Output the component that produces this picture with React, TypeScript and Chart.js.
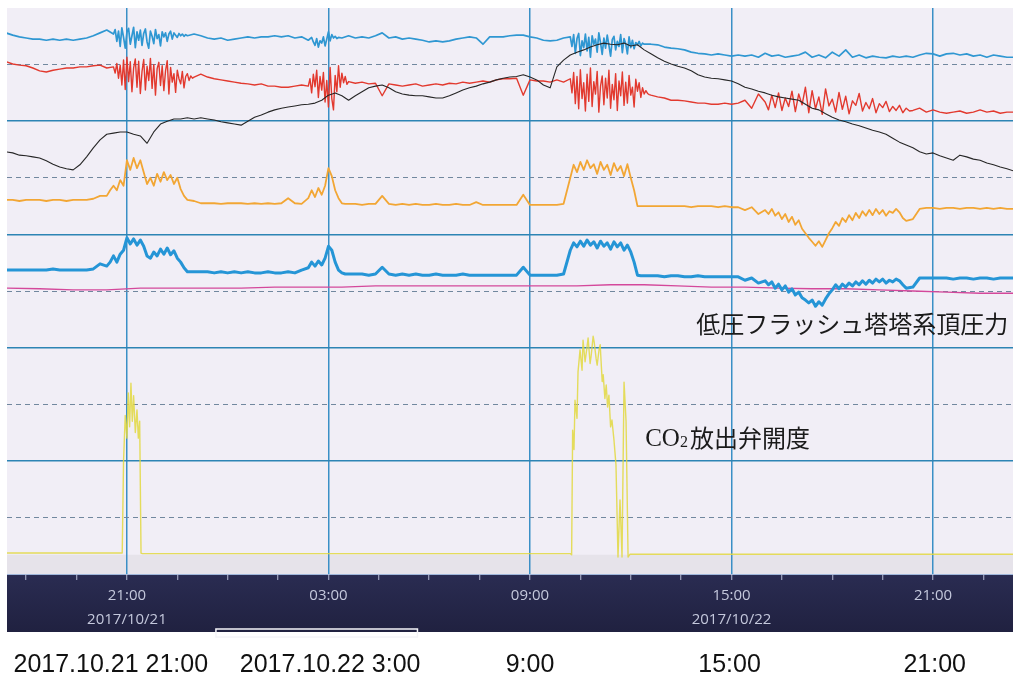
import { useEffect, useRef } from "react";
import { Chart, registerables } from "chart.js";

Chart.register(...registerables);

// Time axis: hours counted from 2017/10/21 00:00.
const VIEW_MIN = 17.43;
const VIEW_MAX = 47.38;

// Sampled trends start at 17:24 and are logged every 12 minutes (0.2 h).
const START_HOUR = 17.4;
const STEP_HOURS = 0.2;

// All trends are plotted in % of their own span.
const topBlueTrend = [
  95.6, 95.2, 94.9, 94.7, 94.5, 94.5, 94.3, 94.5, 94.3, 94.5,
  94.3, 94.5, 94.7, 95.1, 95.6, 96.1, 93.5, 96.5, 93.3, 95.8,
  94.0, 96.1, 92.9, 95.6, 93.8, 95.1, 95.6, 95.2, 95.4, 95.1,
  94.7, 94.5, 94.7, 94.3, 94.5, 94.7, 94.9, 94.7, 94.9, 94.9,
  95.1, 94.9, 95.1, 94.7, 94.9, 94.3, 93.3, 94.9, 93.1, 95.6,
  94.7, 95.1, 94.7, 94.9, 94.7, 95.1, 95.6, 94.7, 94.9, 94.5,
  94.7, 94.5, 94.3, 94.0, 94.2, 94.0, 94.2, 94.5, 94.7, 94.9,
  94.7, 93.6, 94.9, 94.9, 94.9, 95.1, 95.2, 95.2, 94.9, 94.7,
  94.3, 94.2, 94.3, 94.7, 95.1, 92.2, 95.1, 91.7, 94.7, 93.5,
  95.2, 92.6, 94.7, 92.9, 94.7, 94.0, 93.6, 93.5, 93.1, 92.9,
  92.8, 92.6, 92.2, 92.0, 91.9, 91.7, 91.9, 91.7, 91.5, 91.7,
  91.5, 91.7, 91.3, 92.0, 91.5, 91.7, 91.3, 91.5, 91.7, 92.2,
  91.3, 91.7, 91.2, 92.2, 91.5, 92.6, 91.3, 91.7, 91.2, 91.5,
  91.3, 91.2, 91.5, 91.3, 91.5, 91.3, 91.7, 92.0, 91.9, 91.5,
  91.9, 92.0, 91.7, 91.9, 91.5, 91.7, 91.3, 91.7, 91.5, 91.3,
  91.3,
];
// Fast-logged stretches (3 min / 6 min samples) where the signal hunts.
const topBlueBurst2100 = { start: 20.6, step: 0.05, values: [
  95.4, 96.2, 94.1, 95.9, 93.2, 96.5, 94.8, 92.9, 95.7, 96.4,
  93.6, 95.1, 96.6, 93.0, 95.8, 94.3, 96.1, 93.4, 95.5, 96.3,
  94.0, 92.9, 95.9, 95.0, 93.7, 96.2, 94.6, 95.3, 93.3, 95.8,
  94.9, 95.6, 94.1, 95.4, 95.9, 94.5, 95.6, 95.2, 94.8, 95.5,
  95.1, 95.4, 95.0, 95.3, 95.1,
] };
const topBlueBurst0300 = { start: 26.5, step: 0.05, values: [
  94.8, 94.0, 93.4, 94.6, 93.1, 94.2, 93.8, 94.9, 93.3, 94.5,
  95.8, 94.2, 95.3, 94.7, 95.0, 94.6, 94.8,
] };
const topBlueBurst1000 = { start: 34.2, step: 0.05, values: [
  94.9, 93.2, 95.3, 92.0, 94.6, 95.5, 91.6, 94.2, 93.0, 95.4,
  92.4, 94.8, 91.3, 95.1, 93.6, 94.5, 92.2, 95.6, 93.9, 91.8,
  94.7, 92.9, 95.2, 93.4, 91.5, 94.4, 95.0, 92.6, 94.1, 93.2,
  95.3, 92.1, 94.6, 93.7, 91.9, 94.9, 93.0, 94.3, 92.8, 93.9,
  93.5, 94.1, 93.3, 93.8, 93.6,
] };

const redTrend = [
  90.5, 90.1, 89.9, 89.8, 89.4, 88.9, 88.7, 89.0, 89.2, 89.4,
  89.4, 89.6, 89.6, 89.8, 89.9, 89.4, 90.8, 85.5, 91.2, 85.2,
  90.5, 85.9, 90.8, 84.5, 89.9, 85.5, 90.3, 86.4, 89.0, 88.3,
  87.8, 87.5, 87.3, 87.1, 86.9, 86.7, 86.6, 86.4, 86.6, 86.2,
  86.2, 86.0, 86.0, 86.2, 86.4, 85.2, 88.2, 82.9, 89.4, 82.3,
  88.2, 86.9, 86.7, 86.9, 86.6, 86.7, 84.5, 86.6, 86.4, 86.2,
  86.4, 86.6, 86.2, 86.4, 86.6, 86.4, 86.7, 86.6, 86.9, 86.7,
  86.9, 87.1, 86.9, 87.3, 87.5, 87.5, 87.6, 84.6, 87.3, 87.1,
  87.1, 86.9, 87.3, 86.9, 88.2, 82.3, 88.7, 82.0, 88.2, 82.9,
  88.9, 82.3, 87.3, 81.6, 86.4, 84.6, 84.5, 84.3, 84.1, 83.7,
  83.7, 83.6, 83.4, 83.2, 83.2, 83.0, 83.0, 83.2, 83.0, 83.2,
  83.7, 82.3, 84.8, 82.0, 84.5, 82.0, 84.1, 82.3, 84.6, 82.7,
  85.2, 82.0, 84.5, 81.6, 84.6, 82.3, 84.1, 81.6, 83.7, 82.2,
  83.2, 81.6, 83.0, 82.0, 82.7, 81.8, 82.3, 81.6, 82.0, 81.6,
  81.4, 81.6, 81.8, 81.4, 81.6, 82.0, 81.6, 81.8, 81.4, 81.6,
  81.6,
];
const redBurst2100 = { start: 20.6, step: 0.05, values: [
  89.6, 88.5, 90.2, 87.6, 89.9, 86.4, 90.8, 85.6, 91.3, 87.0,
  90.5, 85.2, 89.4, 91.0, 86.0, 90.6, 84.9, 88.8, 90.9, 85.5,
  89.7, 87.2, 91.1, 85.8, 90.0, 84.6, 89.3, 90.4, 86.3, 89.8,
  85.4, 88.9, 90.7, 84.8, 89.5, 86.9, 88.4, 85.1, 89.0, 87.5,
  86.6, 88.8, 85.9, 87.9, 88.4, 87.2, 88.0, 87.6, 87.8,
] };
const redBurst0300 = { start: 26.4, step: 0.05, values: [
  86.2, 87.5, 85.0, 88.3, 86.1, 89.0, 84.2, 87.9, 85.5, 88.6,
  83.4, 87.2, 82.5, 89.5, 84.0, 82.0, 88.1, 85.2, 89.8, 86.0,
  88.5, 86.8, 87.9, 86.5, 87.0,
] };
const redBurst1000 = { start: 34.2, step: 0.05, values: [
  87.5, 85.0, 88.6, 83.1, 87.9, 82.2, 89.1, 84.0, 86.8, 81.8,
  88.3, 83.5, 89.4, 82.6, 87.0, 84.8, 88.8, 81.6, 86.2, 88.0,
  82.9, 87.6, 84.1, 89.0, 82.3, 86.5, 83.8, 88.4, 81.9, 87.1,
  84.5, 88.7, 82.8, 86.9, 83.2, 88.1, 84.6, 86.0, 82.5, 87.4,
  85.3, 86.8, 84.2, 85.9, 84.8, 85.4, 84.9, 84.7, 84.6,
] };
const redBurst1600 = { start: 40.0, step: 0.1, values: [
  83.4, 82.0, 84.6, 82.4, 85.0, 81.9, 84.1, 82.6, 85.3, 81.7,
  84.8, 82.9, 86.0, 81.5, 85.4, 82.2, 84.3, 81.2, 85.7, 82.7,
  83.9, 81.6, 85.1, 82.1, 84.4, 81.3, 83.6, 82.8, 84.9, 81.8,
  83.3, 82.2, 84.0, 81.5, 83.1, 82.4, 83.5, 81.7, 82.6, 81.9,
  82.8, 81.5, 82.3, 81.8, 81.9,
] };

const blackTrend = [
  74.6, 74.4, 74.0, 73.9, 73.7, 73.5, 73.0, 72.4, 71.9, 71.6,
  71.4, 72.3, 73.7, 75.3, 76.7, 77.7, 77.9, 78.1, 78.1, 77.7,
  77.4, 76.1, 78.1, 79.5, 80.0, 80.4, 80.4, 80.6, 80.4, 80.6,
  80.4, 80.2, 79.9, 79.7, 79.5, 79.3, 80.0, 80.7, 81.1, 81.6,
  82.0, 82.3, 82.5, 82.7, 82.9, 83.0, 83.2, 83.7, 84.6, 85.0,
  84.5, 83.7, 84.5, 85.2, 85.9, 86.2, 86.4, 85.9, 85.2, 84.8,
  84.6, 84.5, 84.5, 84.3, 84.1, 84.1, 84.5, 85.0, 85.5, 85.9,
  86.2, 86.6, 86.9, 87.3, 87.6, 87.8, 87.9, 88.2, 87.8, 87.3,
  86.4, 85.9, 89.6, 90.8, 91.7, 92.2, 92.6, 93.1, 93.5, 93.8,
  93.6, 93.5, 93.8, 93.3, 93.5, 92.6, 91.9, 91.2, 90.6, 90.1,
  89.7, 89.4, 88.9, 88.2, 87.8, 87.6, 87.5, 87.3, 87.1, 86.6,
  86.0, 85.7, 85.3, 85.0, 84.6, 84.3, 84.1, 83.9, 83.7, 83.0,
  82.3, 82.0, 81.3, 80.7, 80.2, 79.9, 79.5, 79.2, 78.8, 78.4,
  78.1, 77.7, 77.0, 76.3, 75.8, 75.3, 74.6, 74.2, 74.4, 73.9,
  73.5, 73.1, 74.0, 73.7, 73.3, 73.1, 72.6, 72.3, 71.9, 71.6,
  71.2,
];

const orangeTrend = [
  66.1, 66.1, 65.9, 66.1, 66.1, 66.1, 65.9, 66.1, 66.1, 65.9,
  66.1, 66.1, 66.1, 66.3, 66.8, 67.0, 68.6, 68.7, 73.1, 72.3,
  73.5, 69.1, 71.0, 69.3, 70.7, 70.0, 68.6, 67.0, 65.9, 65.5,
  65.5, 65.5, 65.4, 65.5, 65.5, 65.5, 65.4, 65.5, 65.4, 65.5,
  65.4, 65.5, 66.4, 65.5, 65.4, 67.7, 66.6, 68.4, 71.7, 68.7,
  66.1, 65.4, 65.4, 65.2, 65.4, 65.4, 66.8, 65.4, 65.2, 65.4,
  65.2, 65.4, 65.2, 65.2, 65.4, 65.2, 65.2, 65.4, 65.2, 65.2,
  65.7, 65.2, 65.2, 65.2, 65.2, 65.2, 65.2, 67.0, 65.2, 65.2,
  65.2, 65.2, 65.2, 65.4, 70.0, 72.3, 70.5, 73.1, 71.4, 72.8,
  71.4, 72.6, 70.7, 72.1, 67.0, 65.0, 65.0, 65.0, 65.0, 65.0,
  65.0, 65.0, 64.8, 65.0, 65.0, 65.0, 64.8, 65.0, 64.8, 64.8,
  64.3, 64.8, 63.6, 63.9, 62.9, 63.3, 62.2, 62.5, 61.3, 60.4,
  59.0, 58.1, 59.4, 60.4, 61.7, 62.5, 62.2, 63.3, 62.9, 63.8,
  63.9, 63.3, 64.1, 63.4, 63.6, 62.7, 64.5, 64.7, 64.7, 64.5,
  64.7, 64.7, 64.5, 64.7, 64.7, 64.5, 64.7, 64.5, 64.7, 64.5,
  64.5,
];
const orangeBurst2100 = { start: 20.4, step: 0.1, values: [
  66.8, 67.8, 68.6, 67.8, 69.6, 68.6, 73.1, 71.4, 73.5, 71.7,
  73.1, 71.0, 68.9, 70.0, 68.6, 70.7, 69.3, 71.0, 69.6, 70.5,
  68.9, 70.0, 68.0, 66.8, 66.1,
] };
const orangeBurst0300 = { start: 26.4, step: 0.1, values: [
  66.4, 67.8, 66.6, 68.2, 67.0, 68.6, 71.7, 70.3, 67.8, 66.4,
  65.5, 65.4, 65.4,
] };
const orangeBurst1000 = { start: 34.2, step: 0.1, values: [
  70.0, 72.3, 71.0, 72.8, 71.4, 73.1, 71.7, 72.4, 70.7, 72.8,
  71.4, 72.3, 70.5, 72.6, 71.2, 72.1, 70.3, 72.4, 70.0, 67.8,
  65.0, 65.0, 65.0,
] };
const orangeBurst1600 = { start: 40.0, step: 0.1, values: [
  64.3, 63.6, 64.5, 63.3, 63.9, 62.7, 63.6, 62.2, 63.1, 61.7,
  62.5, 61.0, 60.2, 59.4, 58.7, 58.0, 58.8, 57.8, 59.0, 60.2,
  61.1, 62.2, 61.5, 62.9, 62.2, 63.4, 62.5, 63.8, 62.9, 64.1,
  63.3, 64.3, 63.4, 64.5, 63.6, 64.3, 63.3, 64.1, 63.8, 64.5,
  63.9, 62.9, 62.4,
] };

const towerPressureTrend = [
  53.7, 53.7, 53.7, 53.7, 53.7, 53.7, 53.7, 53.9, 53.7, 53.7,
  53.7, 53.7, 53.7, 53.9, 54.8, 54.6, 55.8, 56.9, 59.2, 58.7,
  59.0, 56.0, 56.4, 57.4, 56.5, 57.2, 55.5, 54.1, 53.4, 53.4,
  53.4, 53.2, 53.4, 53.2, 53.4, 53.2, 53.4, 53.2, 53.2, 53.4,
  53.2, 53.2, 53.4, 53.2, 53.7, 54.4, 55.1, 54.6, 57.8, 55.8,
  53.4, 53.0, 53.0, 53.0, 52.8, 53.0, 54.2, 53.0, 52.8, 53.0,
  52.8, 53.0, 52.8, 52.8, 53.0, 52.8, 52.8, 52.8, 53.0, 52.8,
  52.8, 52.8, 52.8, 52.8, 52.8, 52.8, 52.8, 54.2, 52.8, 52.8,
  52.8, 52.8, 52.8, 53.0, 57.2, 58.7, 57.6, 58.8, 57.9, 58.5,
  57.9, 59.0, 57.4, 58.3, 54.1, 52.7, 52.7, 52.7, 52.5, 52.7,
  52.7, 52.5, 52.5, 52.7, 52.5, 52.5, 52.5, 52.5, 52.5, 52.5,
  51.9, 52.3, 51.4, 51.6, 50.7, 50.9, 50.0, 50.2, 49.1, 48.4,
  47.7, 47.3, 48.2, 49.1, 50.2, 50.9, 50.5, 51.4, 51.1, 51.8,
  52.1, 51.4, 52.1, 51.6, 51.9, 50.7, 52.3, 52.3, 52.3, 52.3,
  52.3, 52.1, 52.3, 52.3, 52.1, 52.3, 52.3, 52.1, 52.3, 52.3,
  52.3,
];
const towerBurst2100 = { start: 20.4, step: 0.1, values: [
  54.4, 55.1, 56.2, 55.1, 56.5, 57.2, 59.4, 58.3, 59.2, 58.1,
  59.0, 57.9, 56.2, 55.8, 56.9, 56.2, 57.4, 56.5, 57.6, 56.4,
  57.1, 55.8, 55.1, 54.1, 53.4,
] };
const towerBurst0300 = { start: 26.4, step: 0.1, values: [
  54.1, 55.1, 54.4, 55.3, 54.6, 55.8, 57.9, 57.2, 55.1, 53.7,
  53.2, 53.0, 53.0,
] };
const towerBurst1000 = { start: 34.2, step: 0.1, values: [
  57.2, 58.5, 57.8, 58.8, 57.9, 59.0, 58.1, 58.7, 57.6, 58.8,
  57.9, 58.5, 57.4, 58.7, 57.8, 58.5, 57.2, 58.1, 56.9, 55.1,
  52.8, 52.7, 52.7,
] };
const towerBurst1600 = { start: 40.0, step: 0.1, values: [
  51.8, 51.1, 51.6, 50.5, 51.2, 50.2, 50.9, 49.8, 50.4, 49.3,
  49.8, 48.8, 48.4, 47.9, 48.4, 47.3, 48.1, 47.5, 48.6, 49.5,
  50.2, 51.1, 50.4, 51.2, 50.7, 51.4, 50.9, 51.6, 51.1, 51.8,
  51.2, 51.9, 51.4, 52.1, 51.6, 52.1, 51.4, 51.9, 51.6, 52.1,
  51.8, 51.1, 50.5,
] };

// Hourly samples from 17:24.
const MAGENTA_STEP_HOURS = 1.0;
const magentaTrend = [
  50.5, 50.4, 50.2, 50.2, 50.5, 50.5, 50.5, 50.5, 50.7, 50.7,
  50.7, 50.9, 50.9, 50.9, 50.9, 50.9, 50.9, 50.9, 51.1, 51.1,
  50.9, 50.7, 50.7, 50.5, 50.4, 50.4, 50.2, 50.0, 49.8, 49.6,
  49.6,
];

// CO2 vent valve opening, logged on change.
const co2Hours = [
  17.4, 20.86, 20.9, 20.95, 21.0, 21.04, 21.08, 21.12, 21.16, 21.2,
  21.25, 21.3, 21.34, 21.38, 21.42, 21.46, 34.2, 34.24, 34.27, 34.31,
  34.34, 34.4, 34.43, 34.49, 34.55, 34.58, 34.64, 34.7, 34.73, 34.79,
  34.82, 34.88, 34.91, 34.97, 35.0, 35.06, 35.09, 35.15, 35.18, 35.23,
  35.27, 35.31, 35.35, 35.4, 35.44, 35.5, 35.56, 35.62, 35.68, 35.74,
  35.8, 35.86, 35.92, 35.98, 47.4,
];
const co2Values = [
  3.7, 3.7, 20.0, 28.0, 24.0, 32.0, 26.0, 33.7, 27.0, 31.5,
  25.0, 29.0, 24.0, 27.0, 3.7, 3.6, 3.6, 3.4, 25.4, 22.0,
  30.7, 27.5, 35.7, 39.6, 36.0, 41.3, 37.5, 40.2, 41.7, 37.2,
  38.5, 42.0, 41.0, 38.0, 36.9, 39.8, 40.5, 34.0, 35.2, 31.0,
  33.4, 29.5, 31.6, 26.0, 27.2, 23.7, 19.3, 3.0, 13.1, 3.0,
  33.9, 27.0, 3.0, 3.5, 3.5,
];

// Grid levels (% of span).
const solidLevels = [20, 40, 60, 80];
const dottedLevels = [10, 30, 50, 70, 90];
const BASE_STRIP_LEVEL = 3.4;

// Time axis marks.
const minorTickHours = [
  18, 19.5, 21, 22.5, 24, 25.5, 27, 28.5, 30, 31.5, 33, 34.5, 36, 37.5, 39,
  40.5, 42, 43.5, 45, 46.5,
];
const axisHours = [21, 27, 33, 39, 45];
const axisTimes = ["21:00", "03:00", "09:00", "15:00", "21:00"];
const axisDates = ["2017/10/21", "", "", "2017/10/22", ""];

// Captions printed beneath the screen.
const captionHours = [20.52, 27.05, 33.0, 38.94, 45.05];
const captionTexts = [
  "2017.10.21 21:00",
  "2017.10.22 3:00",
  "9:00",
  "15:00",
  "21:00",
];

// Trend annotations (anchored at hour / % of span).
const pressureLabel = { text: "低圧フラッシュ塔塔系頂圧力", hour: 37.95, level: 44.2 };
const co2Label = { prefix: "CO", sub: "2", text: "放出弁開度", hour: 36.43, level: 24.0 };

type Burst = { start: number; step: number; values: number[] };

const toPoints = (values: number[], start: number, step: number) =>
  values.map((v, i) => ({ x: start + i * step, y: v }));

// Slow log plus its fast-logged stretches, in time order.
const mergeLog = (values: number[], bursts: Burst[]) => {
  const spans = bursts.map((b) => [b.start - 1e-6, b.start + (b.values.length - 1) * b.step + 1e-6]);
  const slow = toPoints(values, START_HOUR, STEP_HOURS).filter(
    (p) => !spans.some(([a, b]) => p.x >= a && p.x <= b)
  );
  const fast = bursts.flatMap((b) => toPoints(b.values, b.start, b.step));
  return [...slow, ...fast].sort((p, q) => p.x - q.x);
};

const isMajorHour = (v: number) => axisHours.some((h) => Math.abs(h - v) < 1e-6);

// Keep the plot edge fixed regardless of caption widths.
const noSidePadding = (s: any) => {
  s.paddingLeft = 0;
  s.paddingRight = 0;
};

const screenPlugin = {
  id: "trendScreen",
  beforeDraw(chart: any) {
    const { ctx, chartArea: a, scales } = chart;
    ctx.save();
    ctx.fillStyle = "#ffffff";
    ctx.fillRect(0, 0, chart.width, chart.height);
    // plot face
    ctx.fillStyle = "#f1eef6";
    ctx.fillRect(a.left, a.top, a.right - a.left, a.bottom - a.top);
    const yb = scales.y.getPixelForValue(BASE_STRIP_LEVEL);
    ctx.fillStyle = "#e6e3ea";
    ctx.fillRect(a.left, yb, a.right - a.left, a.bottom - yb);
    // time band
    const xs = scales.x;
    const grad = ctx.createLinearGradient(0, xs.top, 0, xs.bottom);
    grad.addColorStop(0, "#2a2c52");
    grad.addColorStop(1, "#202140");
    ctx.fillStyle = grad;
    ctx.fillRect(a.left, xs.top, a.right - a.left, xs.bottom - xs.top);
    ctx.strokeStyle = "#9fb6da";
    ctx.lineWidth = 1;
    ctx.beginPath();
    ctx.moveTo(a.left, xs.top + 0.5);
    ctx.lineTo(a.right, xs.top + 0.5);
    ctx.stroke();
    // scroll bar
    const sx0 = xs.getPixelForValue(23.65);
    const sx1 = xs.getPixelForValue(29.65);
    ctx.strokeStyle = "#f4f4f8";
    ctx.lineWidth = 1.5;
    ctx.strokeRect(sx0, xs.bottom - 3, sx1 - sx0, 8);
    ctx.restore();
  },
  afterDatasetsDraw(chart: any) {
    const { ctx, scales } = chart;
    ctx.save();
    ctx.fillStyle = "#1a1a1a";
    ctx.textBaseline = "middle";
    ctx.textAlign = "left";
    const cjk = "'Noto Sans CJK JP', 'Liberation Serif', serif";
    // pressure label
    ctx.font = `24px ${cjk}`;
    ctx.fillText(
      pressureLabel.text,
      scales.x.getPixelForValue(pressureLabel.hour),
      scales.y.getPixelForValue(pressureLabel.level)
    );
    // CO2 label
    let x = scales.x.getPixelForValue(co2Label.hour);
    const y = scales.y.getPixelForValue(co2Label.level);
    ctx.font = "25px 'Liberation Serif', serif";
    ctx.fillText(co2Label.prefix, x, y + 1);
    x += ctx.measureText(co2Label.prefix).width;
    ctx.font = "16px 'Liberation Serif', serif";
    ctx.fillText(co2Label.sub, x, y + 5);
    x += ctx.measureText(co2Label.sub).width + 2;
    ctx.font = `24px ${cjk}`;
    ctx.fillText(co2Label.text, x, y);
    ctx.restore();
  },
};

export default function App() {
  const canvasRef = useRef<HTMLCanvasElement | null>(null);

  useEffect(() => {
    const canvas = canvasRef.current;
    if (!canvas) return;

    const line = (label: string, data: any[], color: string, width: number) => ({
      label,
      data,
      borderColor: color,
      backgroundColor: color,
      borderWidth: width,
      pointRadius: 0,
      tension: 0,
      fill: false,
      borderJoinStyle: "round" as const,
    });

    const chart = new Chart(canvas, {
      type: "line",
      data: {
        datasets: [
          line("塔頂温度", toPoints(blackTrend, START_HOUR, STEP_HOURS), "#262626", 1.1),
          line(
            "再生塔圧力",
            mergeLog(redTrend, [redBurst2100, redBurst0300, redBurst1000, redBurst1600]),
            "#e2392e",
            1.4
          ),
          line(
            "吸収塔圧力",
            mergeLog(topBlueTrend, [topBlueBurst2100, topBlueBurst0300, topBlueBurst1000]),
            "#2f97d2",
            1.7
          ),
          line(
            "フラッシュ塔圧力",
            mergeLog(orangeTrend, [orangeBurst2100, orangeBurst0300, orangeBurst1000, orangeBurst1600]),
            "#f2a634",
            1.8
          ),
          line(
            "低圧フラッシュ塔塔系頂圧力",
            mergeLog(towerPressureTrend, [towerBurst2100, towerBurst0300, towerBurst1000, towerBurst1600]),
            "#2595d6",
            3
          ),
          line("補助圧力", toPoints(magentaTrend, START_HOUR, MAGENTA_STEP_HOURS), "#d4489b", 1.3),
          line(
            "CO2放出弁開度",
            co2Hours.map((h, i) => ({ x: h, y: co2Values[i] })),
            "rgba(226, 216, 64, 0.85)",
            1.4
          ),
        ],
      },
      options: {
        animation: false,
        responsive: false,
        events: [],
        parsing: false,
        normalized: true,
        layout: { padding: { left: 7, right: 6, top: 8, bottom: 0 } },
        plugins: { legend: { display: false }, tooltip: { enabled: false } },
        scales: {
          x: {
            type: "linear",
            position: "bottom",
            min: VIEW_MIN,
            max: VIEW_MAX,
            afterBuildTicks: (s: any) => {
              s.ticks = minorTickHours.map((v) => ({ value: v }));
            },
            afterFit: (s: any) => {
              s.height = 58;
              noSidePadding(s);
            },
            grid: {
              color: (c: any) => (c.tick && isMajorHour(c.tick.value) ? "#3a8fc6" : "rgba(0,0,0,0)"),
              lineWidth: 1.5,
              drawTicks: true,
              tickLength: 6,
              tickWidth: 1,
              tickColor: "#b7bdd6",
            },
            border: { display: false },
            ticks: {
              autoSkip: false,
              maxRotation: 0,
              color: "#c4c8dc",
              padding: 4,
              font: { family: "'Open Sans', 'Noto Sans', sans-serif", size: 15, lineHeight: 1.6 },
              callback: (v: any) => {
                const k = axisHours.findIndex((h) => Math.abs(h - Number(v)) < 1e-6);
                if (k < 0) return "";
                return axisDates[k] ? [axisTimes[k], axisDates[k]] : axisTimes[k];
              },
            },
          },
          x2: {
            type: "linear",
            position: "bottom",
            min: VIEW_MIN,
            max: VIEW_MAX,
            afterBuildTicks: (s: any) => {
              s.ticks = captionHours.map((v) => ({ value: v }));
            },
            afterFit: (s: any) => {
              s.height = 45;
              noSidePadding(s);
            },
            grid: { display: false, drawTicks: false },
            border: { display: false },
            ticks: {
              autoSkip: false,
              maxRotation: 0,
              color: "#111111",
              padding: 18,
              font: { family: "'Liberation Sans', Arial, sans-serif", size: 25 },
              callback: (_v: any, i: number) => captionTexts[i] ?? "",
            },
          },
          y: {
            type: "linear",
            position: "left",
            min: 0,
            max: 100,
            afterBuildTicks: (s: any) => {
              s.ticks = solidLevels.map((v) => ({ value: v }));
            },
            afterFit: (s: any) => {
              s.width = 0;
            },
            ticks: { display: false },
            grid: { color: "#2d84b4", lineWidth: 1.6, drawTicks: false },
            border: { display: false },
          },
          y2: {
            type: "linear",
            position: "left",
            min: 0,
            max: 100,
            afterBuildTicks: (s: any) => {
              s.ticks = dottedLevels.map((v) => ({ value: v }));
            },
            afterFit: (s: any) => {
              s.width = 0;
            },
            ticks: { display: false },
            grid: { color: "#71879e", lineWidth: 1, drawTicks: false },
            border: { display: false, dash: [5, 4] },
          },
        },
      },
      plugins: [screenPlugin],
    });

    return () => chart.destroy();
  }, []);

  return (
    <div style={{ position: "fixed", left: 0, top: 0, width: 1019, height: 677, background: "#ffffff" }}>
      <canvas ref={canvasRef} width={1019} height={677} style={{ display: "block" }} />
    </div>
  );
}
